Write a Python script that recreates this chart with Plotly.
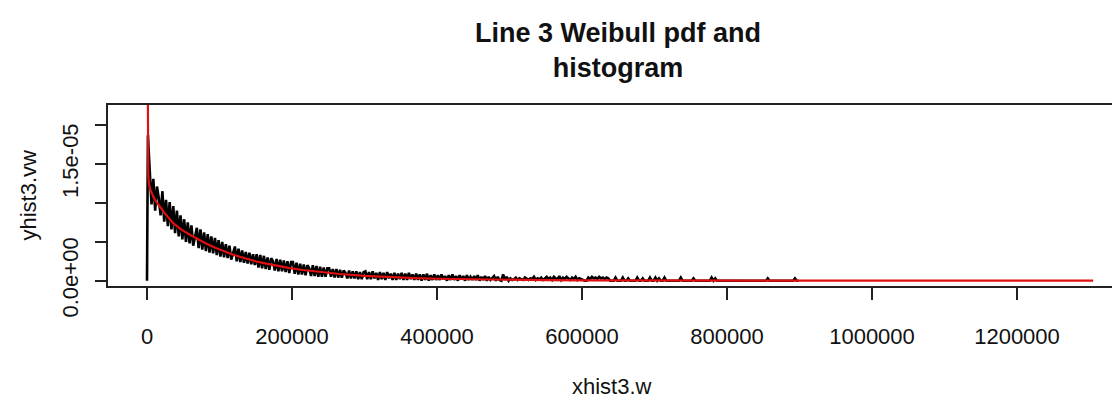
import numpy as np
import plotly.graph_objects as go

# ---- histogram of xhist3.w: bin width and bin densities (units of 1e-7) ----
BIN_WIDTH = 2500
hist_density_e7 = [
    # 0 - 50k
    187, 142, 98, 131, 90, 121, 106, 84, 115, 76, 104, 70, 101, 66, 96, 61, 90, 57, 84, 53,
    # 50k - 100k
    79, 50, 75, 48, 71, 45, 58, 68, 42, 66, 40, 62, 38, 60, 36, 57, 35, 55, 33, 52,
    # 100k - 150k
    31, 50, 30, 47, 29, 45, 27, 34, 44, 25, 41, 24, 39, 23, 37, 22, 36, 21, 34, 20,
    # 150k - 200k
    34, 17, 33, 16, 32, 15, 30, 14, 29, 25, 13, 28, 12, 27, 12, 26, 11, 25, 10, 24,
    # 200k - 250k
    24, 9, 23, 8, 22, 8, 21, 7, 20, 16, 6, 20, 6, 19, 5, 18, 5, 17, 5, 16,
    # 250k - 300k
    16, 5, 15, 4, 15, 4, 14, 4, 13, 10, 3, 13, 3, 12, 3, 12, 2, 11, 2, 11,
    # 300k - 350k
    12, 2, 11, 2, 12, 3, 10, 1, 11, 2, 10, 1, 11, 3, 9, 1, 10, 1, 9, 2,
    # 350k - 400k
    10, 1, 9, 1, 10, 2, 8, 1, 9, 1, 8, 0, 8, 1, 9, 0, 7, 1, 8, 1,
    # 400k - 450k
    7, 1, 8, 2, 6, 0, 7, 1, 8, 1, 6, 0, 7, 2, 6, 0, 7, 1, 5, 1,
    # 450k - 500k
    6, 1, 7, 0, 5, 1, 6, 0, 5, 1, 4, 6, 0, 5, 1, 0, 8, 1, 5, 0,
    # 500k - 550k
    3, 1, 2, 4, 1, 3, 2, 1, 4, 2, 1, 3, 2, 5, 1, 3, 2, 4, 1, 3,
    # 550k - 600k
    5, 2, 4, 1, 5, 3, 2, 6, 1, 4, 2, 5, 3, 1, 4, 2, 5, 1, 3, 2,
    # 600k - 650k
    0, 0, 0, 4, 2, 5, 3, 4, 2, 5, 3, 4, 2, 4, 3, 0, 0, 0, 4, 0,
    # 650k - 700k
    0, 0, 4, 0, 0, 3, 0, 0, 0, 0, 4, 0, 0, 3, 0, 0, 0, 4, 0, 0,
    # 700k - 750k
    4, 0, 3, 0, 0, 4, 0, 0, 0, 0, 0, 0, 0, 0, 4, 0, 0, 0, 0, 0,
    # 750k - 800k
    0, 3, 0, 0, 0, 0, 0, 0, 0, 0, 0, 4, 0, 3, 0, 0, 0, 0, 0, 0,
    # 800k - 850k
    0, 0, 0, 0, 0, 0, 0, 0, 0, 0, 0, 0, 0, 0, 0, 0, 0, 0, 0, 0,
    # 850k - 900k
    0, 0, 3, 0, 0, 0, 0, 0, 0, 0, 0, 0, 0, 0, 0, 0, 0, 3, 0, 0,
]

# ---- fitted Weibull pdf (x in thousands, density in units of 1e-6) ----
pdf_x_k = [0.2, 0.6, 1.2, 1.8, 3, 5, 8.7, 13, 18, 25, 36, 47, 59, 70, 82, 95,
           105, 117, 128, 140, 151, 163, 174, 186, 197, 215, 235, 266, 300,
           335, 370, 400, 450, 500, 550, 600, 700, 800, 900, 1000, 1150, 1305]
pdf_e6 = [40, 22, 15.5, 13.4, 12.3, 11.6, 10.8, 10.1, 9.5, 8.6, 7.4, 6.6, 5.9,
          5.3, 4.75, 4.2, 3.8, 3.4, 3.08, 2.75, 2.47, 2.22, 2.0, 1.8, 1.62,
          1.38, 1.15, 0.86, 0.62, 0.45, 0.33, 0.25, 0.16, 0.10, 0.065, 0.042,
          0.018, 0.008, 0.0035, 0.0015, 0.0004, 0.0001]

# ---- axis ticks ----
x_tick_vals = [0, 200000, 400000, 600000, 800000, 1000000, 1200000]
x_tick_text = ["0", "200000", "400000", "600000", "800000", "1000000", "1200000"]
y_tick_vals = [0, 5e-6, 1e-5, 1.5e-5, 2e-5]
y_tick_text = ["0.0e+00", "", "", "1.5e-05", ""]

TITLE = "Line 3 Weibull pdf and<br>histogram"
X_LABEL = "xhist3.w"
Y_LABEL = "yhist3.vw"

# the density line rises from the baseline at x = 0, then follows the bin mids
mids = BIN_WIDTH * (np.arange(len(hist_density_e7)) + 0.5)
hist_x = np.concatenate(([0.0], mids))
hist_y = np.concatenate(([0.0], np.asarray(hist_density_e7, float) * 1e-7))

pdf_x = np.asarray(pdf_x_k, float) * 1000
pdf_y = np.asarray(pdf_e6, float) * 1e-6

FONT = "Liberation Sans, Arial, Helvetica, sans-serif"
INK = "#111111"
FRAME = "#222222"

fig = go.Figure()
fig.add_trace(go.Scatter(x=hist_x, y=hist_y, mode="lines",
                         line=dict(color="black", width=2.6),
                         hoverinfo="skip", showlegend=False))
fig.add_trace(go.Scatter(x=pdf_x, y=pdf_y, mode="lines",
                         line=dict(color="#e01010", width=2.2),
                         hoverinfo="skip", showlegend=False))

W, H = 1112, 402
L, R, T, B = 108, 0, 105, 116
pw, ph = W - L - R, H - T - B


def px(xp):
    return (xp - L) / pw


def py(yp):
    return (H - B - yp) / ph


fig.update_layout(
    width=W, height=H,
    margin=dict(l=L, r=R, t=T, b=B, pad=0),
    paper_bgcolor="white", plot_bgcolor="white",
    font=dict(family=FONT, size=22, color=INK),
    xaxis=dict(range=[-53793, 1331034], tickvals=x_tick_vals, ticktext=x_tick_text,
               showgrid=False, zeroline=False, showline=True, mirror=True,
               linecolor=FRAME, linewidth=2, ticks="outside", ticklen=12,
               tickwidth=2, tickcolor=FRAME, ticklabelstandoff=18,
               tickfont=dict(family=FONT, size=22, color=INK)),
    yaxis=dict(range=[-6.8e-7, 2.258e-5], tickvals=y_tick_vals, ticktext=y_tick_text,
               showgrid=False, zeroline=False, showline=True,
               linecolor=FRAME, linewidth=2, ticks="outside", ticklen=11,
               tickwidth=2, tickcolor=FRAME, tickangle=-90, ticklabelstandoff=8,
               tickfont=dict(family=FONT, size=22, color=INK)),
    annotations=[
        dict(text="<b>" + TITLE + "</b>", xref="paper", yref="paper",
             x=px(618), y=py(50), xanchor="center", yanchor="middle",
             showarrow=False, font=dict(family=FONT, size=27, color=INK)),
        dict(text=X_LABEL, xref="paper", yref="paper",
             x=px(612), y=py(386), xanchor="center", yanchor="middle",
             showarrow=False, font=dict(family=FONT, size=22, color=INK)),
        dict(text=Y_LABEL, xref="paper", yref="paper", textangle=-90,
             x=px(28), y=py(195.5), xanchor="center", yanchor="middle",
             showarrow=False, font=dict(family=FONT, size=22, color=INK)),
    ],
)

fig.write_html("out.html")
